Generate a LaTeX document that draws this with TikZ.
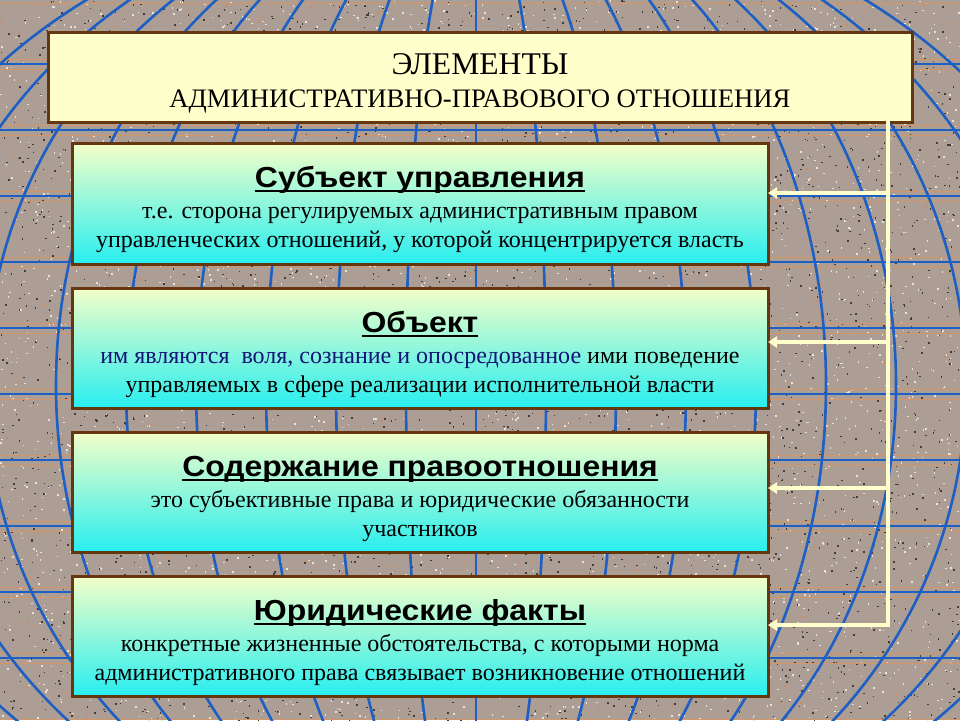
\documentclass[tikz,border=0pt]{standalone}
\usepackage{fontspec}
\setmainfont{Liberation Serif}
\newfontfamily\headfont{Liberation Sans}[FakeStretch=1.1]
\newcommand\myul[1]{\setbox0\hbox{#1}\rlap{\rule[-4.5pt]{\wd0}{1.8pt}}\box0}
\usetikzlibrary{arrows.meta}
\definecolor{granite}{RGB}{172,158,148}
\definecolor{speckdark}{RGB}{70,60,55}
\definecolor{specklight}{RGB}{232,226,216}
\definecolor{speckorange}{RGB}{205,140,95}
\definecolor{gridblue}{RGB}{30,95,195}
\definecolor{gridorange}{RGB}{210,150,105}
\definecolor{boxbrown}{RGB}{100,55,15}
\definecolor{titlefill}{RGB}{255,255,204}
\definecolor{boxtop}{RGB}{245,255,200}
\definecolor{boxbot}{RGB}{40,238,240}
\definecolor{linkcream}{RGB}{255,255,204}
\definecolor{navytext}{RGB}{20,20,120}
\begin{document}
\begin{tikzpicture}[x=1pt,y=-1pt,
  meridian/.style={draw=gridblue, line width=2.6pt},
  parallel/.style={draw=gridblue, line width=2pt},
  parallelshade/.style={draw=gridorange, line width=0.8pt},
  titlebox/.style={draw=boxbrown, line width=3pt, fill=titlefill, inner sep=0pt, outer sep=0pt, minimum width=864pt, minimum height=90pt},
  panel/.style={draw=boxbrown, line width=3pt, top color=boxtop, bottom color=boxbot, inner sep=0pt, outer sep=0pt, minimum width=696pt, minimum height=120pt},
  titletext/.style={anchor=base, inner sep=0pt, font=\fontsize{26.7}{30}\selectfont},
  headtext/.style={anchor=base, inner sep=0pt, font=\headfont\bfseries\fontsize{29}{32}\selectfont},
  bodytext/.style={anchor=base, inner sep=0pt, font=\fontsize{24}{28}\selectfont},
  link/.style={draw=linkcream, line width=4pt},
  linkarrow/.style={draw=linkcream, line width=3.5pt, -{Triangle[length=9pt,width=11pt]}}
]
\useasboundingbox (0,0) rectangle (960,720);
\fill[granite] (0,0) rectangle (960,720);
\begin{scope}
\clip (0,0) rectangle (960,720);
\pgfmathsetseed{7}
\foreach \i in {1,...,3500}{
  \pgfmathsetmacro\xx{960*rnd}\pgfmathsetmacro\yy{720*rnd}
  \fill[speckdark] (\xx,\yy) rectangle ++(1.5,1.5);
  \pgfmathsetmacro\xa{960*rnd}\pgfmathsetmacro\ya{720*rnd}
  \fill[specklight] (\xa,\ya) rectangle ++(1.5,1.5);
}
\foreach \i in {1,...,1000}{
  \pgfmathsetmacro\xx{960*rnd}\pgfmathsetmacro\yy{720*rnd}
  \fill[speckorange] (\xx,\yy) rectangle ++(1.5,1.5);
}
\foreach \y in {-2,64,...,730}{
  \draw[parallelshade] (0,\y-5) -- (960,\y-5);
  \draw[parallelshade] (0,\y+5) -- (960,\y+5);
  \draw[parallel] (0,\y) -- (960,\y);
}
\foreach \k in {1,...,9}{
  \draw[meridian] (476,385) ellipse ({70*\k pt} and 490pt);
}
\draw[meridian] (476,-10) -- (476,730);
\end{scope}

% title
\node[titlebox] (title) at (480,77) {};
\node[titletext, font=\fontsize{31.6}{34}\selectfont] (t1) at (480,74) {ЭЛЕМЕНТЫ};
\node[titletext] (t2) at (480,107) {АДМИНИСТРАТИВНО-ПРАВОВОГО ОТНОШЕНИЯ};

% panels
\node[panel, minimum height=121pt] (b1) at (420,203.5) {};
\node[panel] (b2) at (420,348) {};
\node[panel] (b3) at (420,492) {};
\node[panel] (b4) at (420,636) {};

\node[headtext] (h1) at (420,187) {\myul{Субъект управления}};
\node[bodytext] (s1a) at (420,218) {т.е. сторона регулируемых административным правом};
\node[bodytext] (s1b) at (420,247) {управленческих отношений, у которой концентрируется власть};

\node[headtext] (h2) at (420,332) {\myul{Объект}};
\node[bodytext] (s2a) at (420,363) {\textcolor{navytext}{им являются\ \ воля, сознание и опосредованное} ими поведение};
\node[bodytext] (s2b) at (420,392) {управляемых в сфере реализации исполнительной власти};

\node[headtext] (h3) at (420,476) {\myul{Содержание правоотношения}};
\node[bodytext] (s3a) at (420,507) {это субъективные права и юридические обязанности};
\node[bodytext] (s3b) at (420,536) {участников};

\node[headtext] (h4) at (420,620) {\myul{Юридические факты}};
\node[bodytext] (s4a) at (420,651) {конкретные жизненные обстоятельства, с которыми норма};
\node[bodytext] (s4b) at (420,680) {административного права связывает возникновение отношений};

% connectors
\coordinate (top) at (888,122);
\coordinate (j1) at (888,193);
\coordinate (j2) at (888,342);
\coordinate (j3) at (888,488);
\coordinate (j4) at (888,625);
\draw[link, line cap=rect] (top) -- (j4);
\draw[linkarrow] (j1) -- (b1.east |- j1);
\draw[linkarrow] (j2) -- (b2.east |- j2);
\draw[linkarrow] (j3) -- (b3.east |- j3);
\draw[linkarrow] (j4) -- (b4.east |- j4);
\end{tikzpicture}
\end{document}
